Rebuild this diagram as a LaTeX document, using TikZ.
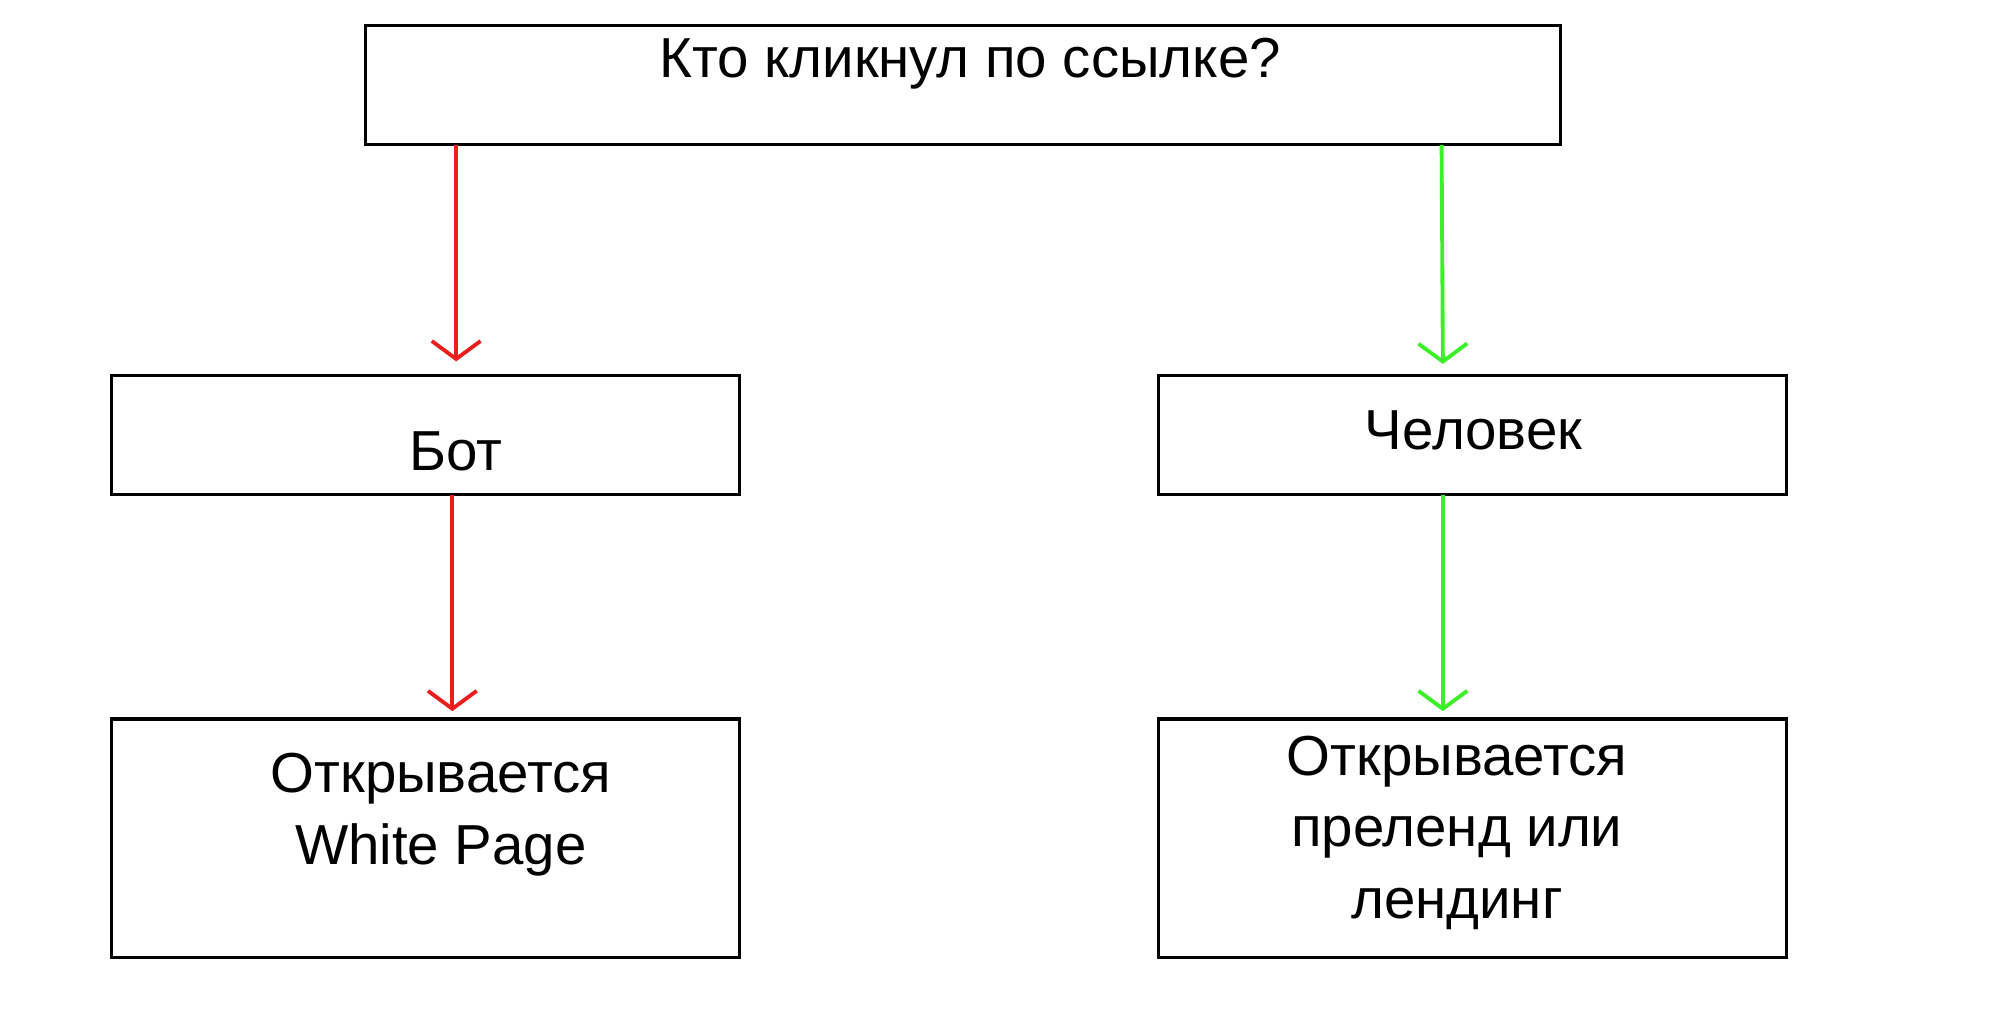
\documentclass[tikz,border=0pt]{standalone}
\usepackage{fontspec}
\setmainfont{Liberation Sans}
\usetikzlibrary{arrows.meta}
\definecolor{botred}{RGB}{235,30,30}
\definecolor{humgreen}{RGB}{60,240,40}

\begin{document}
\begin{tikzpicture}[x=1pt,y=-1pt,
  box/.style={draw,line width=2.6pt,inner sep=0pt},
  lbl/.style={inner sep=0pt,font=\fontsize{44}{56}\selectfont,align=center},
  arr/.style={line width=3pt,-{Straight Barb[length=14pt,width=38pt,line width=3pt]}}]
\useasboundingbox (0,0) rectangle (1560,803);

% Boxes
\node[box,minimum width=933pt,minimum height=93pt] (q) at (751.5,66.5) {};
\node[box,minimum width=490pt,minimum height=93pt] (bot) at (332,339.5) {};
\node[box,minimum width=490pt,minimum height=93pt] (hum) at (1149,339.5) {};
\node[box,minimum width=490pt,minimum height=186pt] (white) at (332,654) {};
\node[box,minimum width=490pt,minimum height=186pt] (land) at (1149,654) {};

% Text Nodes
\node[lbl] (qt) at (757,50) {Кто кликнул по ссылке?};
\node[lbl] (bott) at (356,352) {Бот};
\node[lbl] (humt) at (1150,336) {Человек};
\node[lbl] (whitet) at (344,636) {Открывается\\White Page};
\node[lbl] (landt) at (1137,650) {Открывается\\преленд или\\лендинг};

% Arrows
\coordinate (q1) at (356,113);
\coordinate (b1) at (356,282);
\coordinate (q2) at (1125,113);
\coordinate (h1) at (1126,284);
\coordinate (b2) at (353,386);
\coordinate (w1) at (353,555);
\coordinate (h2) at (1126,386);
\coordinate (l1) at (1126,555);
\draw[arr,botred] (q1) -- (b1);
\draw[arr,humgreen] (q2) -- (h1);
\draw[arr,botred] (b2) -- (w1);
\draw[arr,humgreen] (h2) -- (l1);
\end{tikzpicture}
\end{document}
